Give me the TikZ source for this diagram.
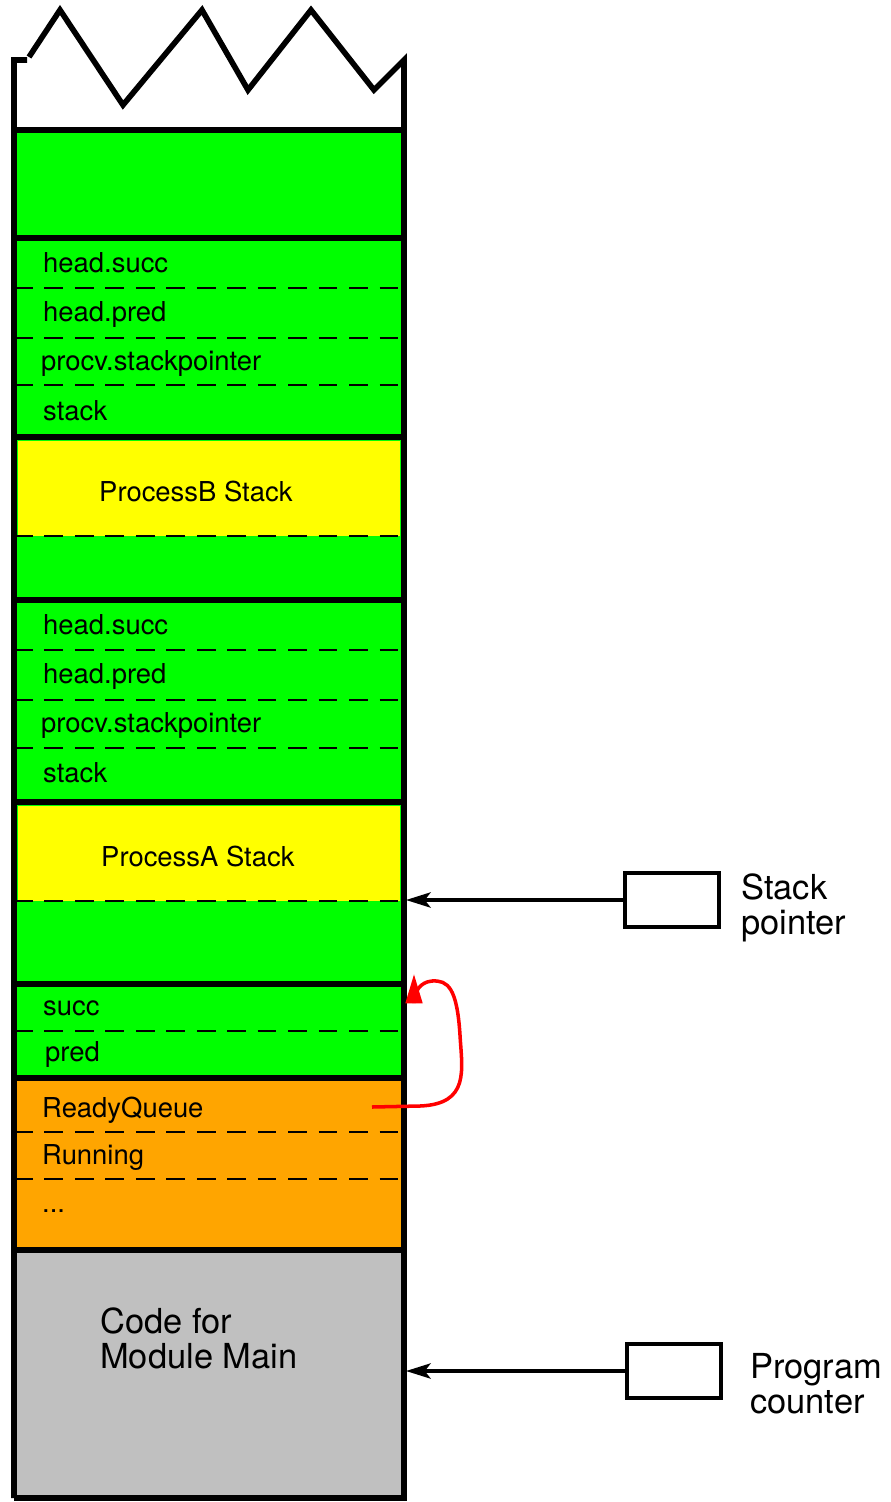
\documentclass[tikz,border=0pt]{standalone}
\usepackage{fontspec}
\setmainfont{TeX Gyre Heros}
\usepackage{tikz}
\usetikzlibrary{arrows.meta}

\definecolor{memgreen}{RGB}{0,255,0}
\definecolor{memyellow}{RGB}{255,255,0}
\definecolor{memorange}{RGB}{255,165,0}
\definecolor{memgray}{RGB}{192,192,192}

\begin{document}
\begin{tikzpicture}
  %[x=0.03cm,y=-0.03cm,every node/.style={inner sep=0pt}]
  [x=0.03cm,y=-0.03cm,
   field/.style={anchor=base west,inner sep=0pt,font=\fontsize{23.4}{28}\selectfont},
   big/.style={anchor=west,inner sep=0pt,align=left,font=\fontsize{29.4}{29.8}\selectfont},
   reg/.style={draw,line width=3pt,minimum width=80pt,minimum height=46pt,inner sep=0pt},
   sepline/.style={line width=4.8pt},
   dashline/.style={line width=1.8pt,dash pattern=on 16pt off 10pt},
   ptr/.style={line width=3pt,-{Stealth[length=21pt,width=13pt,inset=5pt]}},
   redptr/.style={red,line width=3pt,-{Triangle[length=25pt,width=14pt]}}]
  \useasboundingbox (0,0) rectangle (890,1502);

  % fills
  \fill[memgreen] (14,130) rectangle (404,1078);
  \fill[memyellow] (18,441) rectangle (400,536);
  \fill[memyellow] (18,806) rectangle (400,901);
  \fill[memorange] (14,1078) rectangle (404,1250);
  \fill[memgray] (14,1250) rectangle (404,1498);

  % separators
  \foreach \y in {130,238,437,600,802,984,1078,1250}
    \draw[sepline] (14,\y) -- (404,\y);
  \foreach \y in {288,338,385,536,650,700,748,901,1031,1132,1179}
    \draw[dashline] (14,\y) -- (404,\y);

  % column with torn top
  \draw[line width=4.8pt,line join=miter]
    (14,1498) -- (14,60) -- (27,60) (29,57) -- (60,10) -- (123,105) -- (202,10)
    -- (248,90) -- (311,10) -- (374,90) -- (404,60) -- (404,1498) -- (14,1498);

  % fields
  \node[field] (hs1) at (43,272) {head.succ};
  \node[field] (hp1) at (43,321) {head.pred};
  \node[field] (sp1) at (41,370) {procv.stackpointer};
  \node[field] (st1) at (43,420) {stack};
  \node[field] (pb) at (99,501) {ProcessB Stack};

  \node[field] (hs2) at (43,634) {head.succ};
  \node[field] (hp2) at (43,683) {head.pred};
  \node[field] (sp2) at (41,732) {procv.stackpointer};
  \node[field] (st2) at (43,782) {stack};
  \node[field] (pa) at (101,866) {ProcessA Stack};

  \node[field] (succ) at (43,1015) {succ};
  \node[field] (pred) at (45,1061) {pred};
  \node[field] (rq) at (42,1117) {ReadyQueue};
  \node[field] (run) at (42,1164) {Running};
  \node[field] (more) at (42,1212) {...};

  \node[big] (code) at (100,1338) {Code for\\Module Main};

  % registers
  \node[reg] (spbox) at (672,900) {};
  \node[big] (splabel) at (741,908) {Stack\\pointer};
  \node[reg] (pcbox) at (674,1371) {};
  \node[big] (pclabel) at (750,1384) {Program\\counter};

  \coordinate (spto) at (406,900);
  \coordinate (pcto) at (406,1371);
  \coordinate (rqfrom) at (372,1107);
  \coordinate (succto) at (414,974);

  \draw[ptr] (spbox.west) -- (spto);
  \draw[ptr] (pcbox.west) -- (pcto);

  \draw[redptr] (rqfrom) -- (420,1106) .. controls (470,1104) and (462,1070) .. (460,1035)
    .. controls (457,988) and (448,980) .. (432,981)
    .. controls (420,982) and (414,992) .. (414,1003) -- (succto);

\end{tikzpicture}
\end{document}
